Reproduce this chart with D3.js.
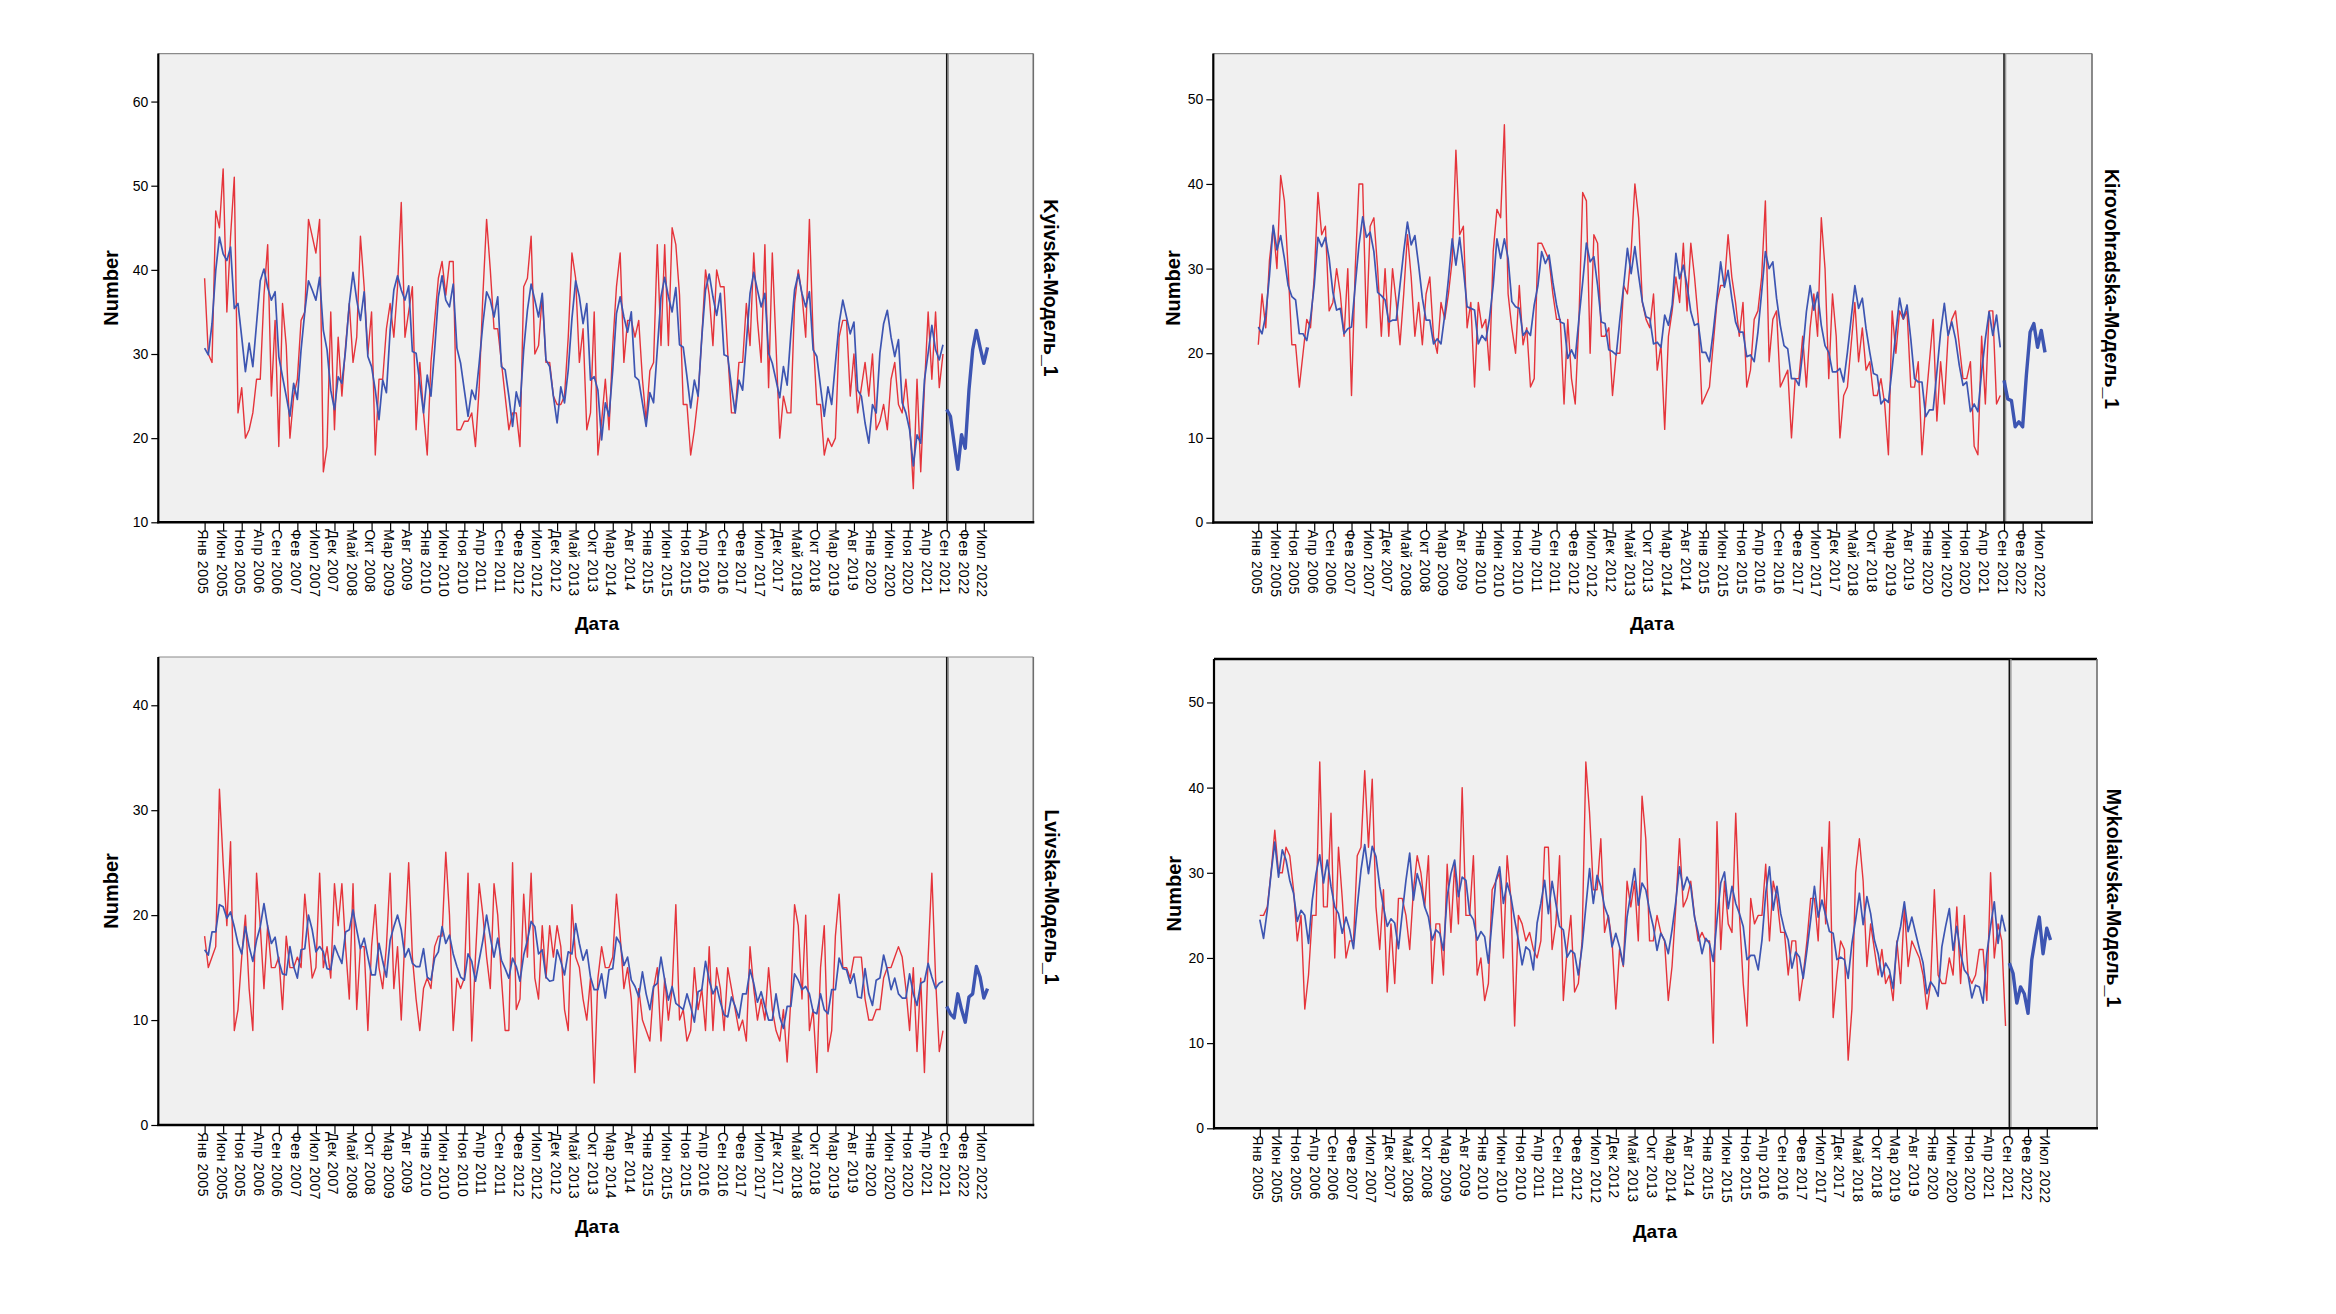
<!DOCTYPE html>
<html>
<head>
<meta charset="utf-8">
<script src="https://cdn.jsdelivr.net/npm/d3@7"></script>
<style>
  body { margin: 0; background: #ffffff; }
  svg { display: block; }
  text { font-family: "Liberation Sans", Arial, sans-serif; fill: #000; }
</style>
</head>
<body>
<svg id="chart" width="2336" height="1314"></svg>
<script>
// ---- Data (monthly, index 0 = Янв 2005; forecast starts at index 200 = Сен 2021) ----
const tickLabels = ["Янв 2005","Июн 2005","Ноя 2005","Апр 2006","Сен 2006","Фев 2007","Июл 2007","Дек 2007","Май 2008","Окт 2008","Мар 2009","Авг 2009","Янв 2010","Июн 2010","Ноя 2010","Апр 2011","Сен 2011","Фев 2012","Июл 2012","Дек 2012","Май 2013","Окт 2013","Мар 2014","Авг 2014","Янв 2015","Июн 2015","Ноя 2015","Апр 2016","Сен 2016","Фев 2017","Июл 2017","Дек 2017","Май 2018","Окт 2018","Мар 2019","Авг 2019","Янв 2020","Июн 2020","Ноя 2020","Апр 2021","Сен 2021","Фев 2022","Июл 2022"];
const tickStepMonths = 5;
const forecastStart = 200;

const kyivObserved = [39,30,29,47,45,52,35,44,51,23,26,20,21,23,27,27,37,43,25,34,19,36,31,20,25,27,34,35,46,44,42,46,16,19,35,21,32,25,31,36,29,32,44,38,30,35,18,27,27,33,36,32,38,48,32,35,38,21,29,23,18,29,34,39,41,37,41,41,21,21,22,22,23,19,26,37,46,40,33,33,29,25,21,23,23,19,38,39,44,30,31,37,29,29,25,24,24,25,32,42,39,29,33,21,23,35,18,22,27,21,
31,38,42,29,34,34,32,34,27,22,28,29,43,31,43,31,45,43,37,24,24,18,21,25,32,40,37,31,40,38,38,30,23,23,29,29,36,31,42,34,29,43,26,42,31,20,25,23,23,36,40,37,32,46,32,24,24,18,20,19,20,32,34,34,25,30,23,26,29,25,30,21,22,24,21,27,29,24,23,27,22,14,27,16,26,35,27,35,26,30];
const kyivFit = [30.7,29.9,33.6,39.9,43.9,41.9,41.1,42.7,35.4,36.0,32.0,27.9,31.3,28.5,33.6,38.7,40.1,37.9,36.4,37.4,29.7,27.3,25.0,22.6,26.5,24.6,30.5,35.0,38.7,37.6,36.4,39.1,32.8,30.5,25.7,23.4,27.3,26.5,30.5,36.0,39.7,36.4,34.0,37.4,29.7,28.5,25.7,22.2,26.9,25.4,32.8,37.6,39.3,37.6,36.4,38.1,30.3,30.1,26.5,23.0,27.5,25.0,30.5,36.8,39.3,36.4,35.6,38.3,30.7,28.9,25.7,22.6,25.7,24.6,28.9,33.6,37.4,36.4,34.4,36.8,28.5,28.1,25.0,21.4,25.5,23.8,30.5,35.2,38.3,36.4,34.4,37.2,29.3,28.5,25.0,21.8,26.1,24.2,28.1,34.2,38.7,36.8,33.6,36.0,26.9,
27.3,25.7,19.8,24.2,22.6,
28.1,34.8,36.8,34.4,32.6,35.0,27.3,26.9,24.2,21.4,25.4,24.2,30.5,36.8,39.1,36.8,35.0,37.9,31.1,30.8,27.3,23.6,26.9,25.0,32.0,37.6,39.5,36.8,34.6,37.2,29.9,29.7,26.1,23.0,26.9,25.7,31.3,37.2,39.7,37.6,35.6,37.2,30.1,28.9,26.9,24.8,28.5,26.3,32.4,37.6,39.5,37.2,35.6,37.4,30.5,29.7,26.1,22.6,26.1,24.0,28.9,33.6,36.4,34.4,32.4,33.8,25.7,25.0,21.8,19.4,24.0,23.0,30.1,33.6,35.2,32.0,29.7,31.7,24.2,23.0,21.0,16.7,20.4,19.4,26.9,30.1,33.4,30.5,29.3,31.1];
const kyivForecast = [23.4,22.6,19.4,16.3,20.4,18.8,25.7,30.5,32.8,30.8,28.9,30.8];

const kirovObserved = [21,27,23,31,35,30,41,38,30,21,21,16,20,24,23,29,39,34,35,25,26,30,27,22,30,15,30,40,40,23,35,36,30,22,30,22,30,26,21,27,34,29,22,26,21,27,29,22,20,26,24,27,31,44,34,35,23,26,16,26,23,24,18,32,37,36,47,27,23,20,28,21,23,16,17,33,33,32,31,27,24,24,14,24,17,14,24,39,38,20,34,33,22,22,23,15,20,20,28,27,32,40,36,26,24,23,27,18,21,11,
22,25,29,26,33,25,33,29,24,14,15,16,21,26,28,28,34,29,26,22,26,16,18,24,25,29,38,19,24,25,16,17,18,10,17,17,22,16,23,27,22,36,30,17,27,22,10,15,16,21,26,19,23,18,19,15,15,17,14,8,25,20,25,24,25,16,16,19,8,14,19,24,12,19,14,22,24,25,21,17,17,19,9,8,22,14,25,25,14,15];
const kirovFit = [23.1,22.3,24.5,29.2,35.1,32.2,33.9,31.2,28.0,26.7,26.3,22.3,22.3,21.5,24.1,28.0,33.7,32.6,33.7,31.2,27.2,25.1,25.3,22.3,22.9,23.1,28.0,32.8,36.1,33.7,34.3,32.0,27.2,26.8,26.3,23.7,23.9,23.9,28.0,32.0,35.5,32.8,33.9,30.4,26.5,23.9,23.9,21.1,21.7,21.1,24.5,28.8,33.5,30.4,33.7,30.0,25.5,25.3,25.1,21.1,22.1,21.5,24.1,28.0,33.5,31.2,33.5,31.2,26.1,25.5,25.3,22.1,22.7,22.1,25.7,28.0,32.0,30.6,31.6,28.4,25.7,23.7,23.5,19.4,20.4,19.4,24.1,28.4,33.0,30.8,31.4,28.0,23.7,23.5,20.4,20.2,19.8,24.1,28.0,32.4,29.4,32.6,29.2,26.1,24.3,24.1,21.1,21.3,20.7,24.5,
23.3,25.7,31.8,28.8,30.4,28.0,24.9,23.3,23.5,20.1,20.1,19.0,22.5,26.5,30.8,27.8,29.8,26.5,23.7,22.5,22.5,19.6,19.8,19.0,22.5,27.2,32.0,30.0,30.8,26.5,23.3,20.9,20.5,17.0,17.0,16.2,20.1,24.9,28.0,25.1,27.2,23.3,20.9,20.1,17.8,17.8,18.2,16.6,20.1,24.1,28.0,25.3,26.5,22.9,20.1,17.6,17.4,14.0,14.6,14.2,18.2,22.5,26.5,24.1,25.7,21.7,17.0,16.6,16.6,12.5,13.3,13.3,17.8,22.5,25.9,22.1,23.7,21.7,18.6,16.2,16.6,13.1,14.0,13.1,17.8,21.7,24.9,22.1,24.5,20.7];
const kirovForecast = [16.8,14.6,14.4,11.3,11.9,11.3,17.4,22.5,23.5,20.7,22.7,20.1];

const lvivObserved = [18,15,16,17,32,25,19,27,9,11,16,20,13,9,24,19,13,19,15,15,16,11,18,15,15,16,15,22,18,14,15,24,15,17,14,23,19,23,17,12,23,11,17,17,9,17,21,15,13,17,24,13,17,10,18,25,16,12,9,13,14,13,17,18,18,26,20,9,14,13,14,24,8,16,23,20,16,13,23,20,14,9,9,25,11,12,22,16,24,14,12,19,14,19,16,19,17,11,9,21,16,15,12,10,14,
4,
14,17,15,15,16,22,18,13,15,12,5,13,10,9,8,13,15,8,14,10,13,21,10,11,8,9,15,11,13,9,17,9,15,13,9,15,13,11,9,10,8,17,13,10,12,10,15,11,9,8,11,6,12,21,19,12,20,9,11,5,15,19,7,9,18,22,15,15,14,16,16,16,12,10,10,11,11,14,15,15,16,17,16,13,9,15,7,14,5,16,24,14,7,9];
const lvivFit = [16.7,16.2,18.4,18.4,21.0,20.8,19.7,20.3,18.9,17.3,16.3,18.9,17.0,15.6,17.6,18.9,21.1,18.9,17.3,17.9,15.6,14.4,14.3,17.0,15.1,14.0,16.7,16.8,20.0,18.6,16.5,17.0,16.5,14.9,14.8,17.1,16.2,15.4,18.4,18.6,20.5,18.6,16.8,17.8,16.0,14.3,14.3,17.3,15.6,14.1,17.6,18.9,20.0,18.6,16.0,16.8,15.4,15.1,15.1,16.8,14.1,13.8,15.9,16.5,18.9,17.3,18.1,16.3,15.1,14.1,13.8,16.3,15.6,13.7,15.7,17.6,20.0,17.9,16.0,17.8,15.7,14.9,14.0,15.9,15.1,13.7,16.2,17.6,19.4,18.9,16.3,16.7,14.1,13.7,13.8,16.7,15.6,14.3,16.5,16.3,19.2,17.3,15.7,16.7,14.1,
12.9,12.9,14.4,12.1,14.8,14.9,17.9,17.3,15.2,16.0,13.8,13.2,12.2,14.6,12.5,11.0,13.2,13.5,16.0,13.8,11.9,13.2,11.6,11.3,11.0,12.5,11.3,9.8,12.7,12.9,15.6,13.8,12.5,13.2,11.7,10.5,10.3,12.2,11.3,10.2,12.5,12.5,14.8,13.5,11.7,12.7,11.3,10.0,10.0,12.5,10.3,9.2,11.3,11.3,14.4,13.8,12.9,13.2,12.5,10.8,10.6,12.5,11.0,10.6,12.9,12.9,15.9,14.9,14.8,13.5,14.4,12.2,12.1,14.9,12.5,11.4,13.8,14.0,16.2,14.8,12.9,14.0,12.5,12.1,12.1,14.4,12.5,11.4,13.5,13.7,15.4,14.1,13.0,13.5,13.7];
const lvivForecast = [11.3,10.6,10.2,12.5,11.0,9.8,12.2,12.5,15.1,14.1,12.1,13.0];

const mykolObserved = [25,25,26,30,35,30,30,33,32,28,22,25,14,18,25,25,43,26,26,37,20,33,27,20,22,22,32,33,42,33,41,26,21,28,16,24,17,27,27,25,21,28,32,30,26,32,17,24,24,18,31,23,31,24,40,25,25,32,18,20,15,17,28,29,30,20,32,27,12,25,24,22,23,21,20,22,33,33,21,24,32,15,21,25,16,17,22,43,37,28,28,34,23,25,22,14,21,19,29,26,29,22,39,34,22,22,25,23,22,15,
19,26,34,26,27,29,25,22,23,22,22,10,36,21,29,24,23,37,25,17,12,27,24,25,25,31,22,29,27,23,23,18,22,22,15,18,22,27,27,22,33,24,36,13,18,22,21,8,14,30,34,29,19,24,21,18,21,17,18,15,22,17,26,19,22,21,20,18,14,17,28,18,17,17,20,18,26,17,25,18,17,18,21,21,15,30,20,24,22,12];
const mykolFit = [24.5,22.3,25.6,29.9,33.6,29.5,32.7,31.5,29.1,27.6,24.3,25.6,25.0,21.7,26.8,29.9,32.1,28.8,31.5,28.4,26.0,25.2,22.9,24.8,23.3,21.1,26.0,30.3,33.3,29.9,33.1,31.9,28.4,26.0,23.7,24.6,24.1,21.1,25.2,29.1,32.3,26.8,29.9,28.4,26.0,24.8,22.1,23.3,22.9,20.9,27.2,29.9,31.5,27.2,29.5,29.1,25.2,24.5,22.1,23.1,22.5,19.4,24.5,29.1,30.7,26.4,28.8,27.2,24.5,22.1,19.2,21.3,20.9,18.6,24.1,26.4,29.1,25.2,29.0,26.4,23.7,23.3,20.1,20.9,20.5,18.0,21.3,26.0,30.5,26.4,29.7,28.4,26.0,24.8,21.3,22.9,21.3,19.2,24.8,27.6,30.5,26.2,28.8,28.0,25.6,23.7,20.9,22.9,22.1,20.5,
23.3,26.6,30.7,28.0,29.5,28.4,24.8,22.9,20.5,22.3,21.7,19.6,24.5,28.8,30.1,25.8,28.4,26.4,25.2,23.7,19.8,20.3,20.3,18.6,22.1,27.6,30.7,25.6,28.4,25.2,23.3,22.1,18.8,20.7,20.1,17.6,20.9,24.5,28.4,24.8,26.8,25.0,23.1,22.9,19.8,20.1,19.8,17.6,21.7,24.5,27.6,23.9,27.2,25.2,22.1,20.5,17.8,19.4,18.6,16.4,21.7,23.7,26.6,23.1,24.8,22.9,21.1,19.4,15.8,17.2,16.6,15.5,21.3,23.7,25.8,20.9,23.7,20.5,18.6,18.0,15.3,16.8,16.6,14.7,20.5,23.7,26.6,21.7,25.0,23.1];
const mykolForecast = [19.4,18.2,14.7,16.6,15.8,13.5,19.8,22.5,24.8,20.5,23.5,22.1];

// ---- Panel layout (positions kept separate from data) ----
const panels = [
  { name: "Kyivska-Модель_1", observed: kyivObserved, fit: kyivFit, forecast: kyivForecast,
    yDomain: [10, 65.7], yTicks: [10,20,30,40,50,60],
    frame: { l: 158.3, r: 1033.3, t: 53.6, b: 522.3 }, xPx: [204.6, 946.7],
    numberX: 111, labelX: 1051, labelY: 288, dataX: 597, dataY: 623, darkTop: false },
  { name: "Kirovohradska-Модель_1", observed: kirovObserved, fit: kirovFit, forecast: kirovForecast,
    yDomain: [0, 55.4], yTicks: [0,10,20,30,40,50],
    frame: { l: 1213.3, r: 2092, t: 53.6, b: 522.5 }, xPx: [1258.3, 2004],
    numberX: 1173, labelX: 2112, labelY: 289, dataX: 1652, dataY: 623, darkTop: false },
  { name: "Lvivska-Модель_1", observed: lvivObserved, fit: lvivFit, forecast: lvivForecast,
    yDomain: [0, 44.6], yTicks: [0,10,20,30,40],
    frame: { l: 158.3, r: 1033.3, t: 657, b: 1125 }, xPx: [204.6, 946.7],
    numberX: 111, labelX: 1052, labelY: 897, dataX: 597, dataY: 1226, darkTop: false },
  { name: "Mykolaivska-Модель_1", observed: mykolObserved, fit: mykolFit, forecast: mykolForecast,
    yDomain: [0, 55.1], yTicks: [0,10,20,30,40,50],
    frame: { l: 1214, r: 2097, t: 659, b: 1128.3 }, xPx: [1259.8, 2009.3],
    numberX: 1174, labelX: 2114, labelY: 898, dataX: 1655, dataY: 1231, darkTop: true }
];

const RED = "#e5343b";
const BLUE = "#3d55b2";

const svg = d3.select("#chart");

panels.forEach(p => {
  const f = p.frame;
  const x = d3.scaleLinear().domain([0, forecastStart]).range(p.xPx);
  const y = d3.scaleLinear().domain(p.yDomain).range([f.b, f.t]);
  const g = svg.append("g");

  // plot background
  g.append("rect").attr("x", f.l).attr("y", f.t).attr("width", f.r - f.l).attr("height", f.b - f.t)
    .attr("fill", "#f0f0f0");

  // top and right borders
  g.append("line").attr("x1", f.l).attr("x2", f.r).attr("y1", f.t).attr("y2", f.t)
    .attr("stroke", p.darkTop ? "#000" : "#8a8a8a").attr("stroke-width", p.darkTop ? 2.6 : 1.2);
  g.append("line").attr("x1", f.r).attr("x2", f.r).attr("y1", f.t).attr("y2", f.b)
    .attr("stroke", "#6e6e6e").attr("stroke-width", 1.6);

  const line = d3.line().x((d, i) => x(i)).y(d => y(d));
  const lineF = d3.line().x((d, i) => x(forecastStart + i)).y(d => y(d));

  g.append("path").datum(p.observed).attr("d", line)
    .attr("fill", "none").attr("stroke", RED).attr("stroke-width", 1.4).attr("stroke-linejoin", "round");
  g.append("path").datum(p.fit).attr("d", line)
    .attr("fill", "none").attr("stroke", BLUE).attr("stroke-width", 1.7).attr("stroke-linejoin", "round");

  // forecast reference line
  const xv = x(forecastStart);
  g.append("line").attr("x1", xv + 1.6).attr("x2", xv + 1.6).attr("y1", f.t).attr("y2", f.b)
    .attr("stroke", "#9a9a9a").attr("stroke-width", 1.4);
  g.append("line").attr("x1", xv).attr("x2", xv).attr("y1", f.t).attr("y2", f.b)
    .attr("stroke", "#111").attr("stroke-width", 1.5);

  g.append("path").datum(p.forecast).attr("d", lineF)
    .attr("fill", "none").attr("stroke", BLUE).attr("stroke-width", 3.4).attr("stroke-linejoin", "round");

  // Y axis
  const yAxis = d3.axisLeft(y).tickValues(p.yTicks).tickSize(7).tickFormat(d3.format("d"));
  const ya = g.append("g").attr("transform", `translate(${f.l},0)`).call(yAxis);
  ya.select(".domain").remove();
  ya.selectAll("line").attr("stroke", "#000").attr("stroke-width", 1.2);
  ya.selectAll("text").attr("font-size", 14).attr("x", -10).attr("fill", "#000");

  // X axis
  const xAxis = d3.axisBottom(x)
    .tickValues(tickLabels.map((_, k) => k * tickStepMonths))
    .tickFormat((d, k) => tickLabels[k])
    .tickSize(9);
  const xa = g.append("g").attr("transform", `translate(0,${f.b})`).call(xAxis);
  xa.select(".domain").remove();
  xa.selectAll("line").attr("stroke", "#000").attr("stroke-width", 1.2);
  xa.selectAll("text")
    .attr("x", 0).attr("y", 0).attr("dy", "0.35em")
    .attr("transform", "translate(-2,7) rotate(90)")
    .style("text-anchor", "start")
    .attr("font-size", 14).attr("letter-spacing", 0.6).attr("fill", "#000");

  // axis lines (thick black)
  g.append("line").attr("x1", f.l).attr("x2", f.l).attr("y1", f.t).attr("y2", f.b + 1)
    .attr("stroke", "#000").attr("stroke-width", 2.2);
  g.append("line").attr("x1", f.l - 1).attr("x2", f.r + 1).attr("y1", f.b).attr("y2", f.b)
    .attr("stroke", "#000").attr("stroke-width", 2.6);

  // Axis titles
  g.append("text").attr("transform", `translate(${p.numberX},${(f.t + f.b) / 2}) rotate(-90)`)
    .attr("text-anchor", "middle").attr("dominant-baseline", "central")
    .attr("font-size", 20).attr("font-weight", "bold").text("Number");
  g.append("text").attr("x", p.dataX).attr("y", p.dataY)
    .attr("text-anchor", "middle").attr("dominant-baseline", "central")
    .attr("font-size", 19).attr("font-weight", "bold").text("Дата");
  g.append("text").attr("transform", `translate(${p.labelX},${p.labelY}) rotate(90)`)
    .attr("text-anchor", "middle").attr("dominant-baseline", "central")
    .attr("font-size", 19.5).attr("font-weight", "bold").text(p.name);
});
</script>
</body>
</html>
